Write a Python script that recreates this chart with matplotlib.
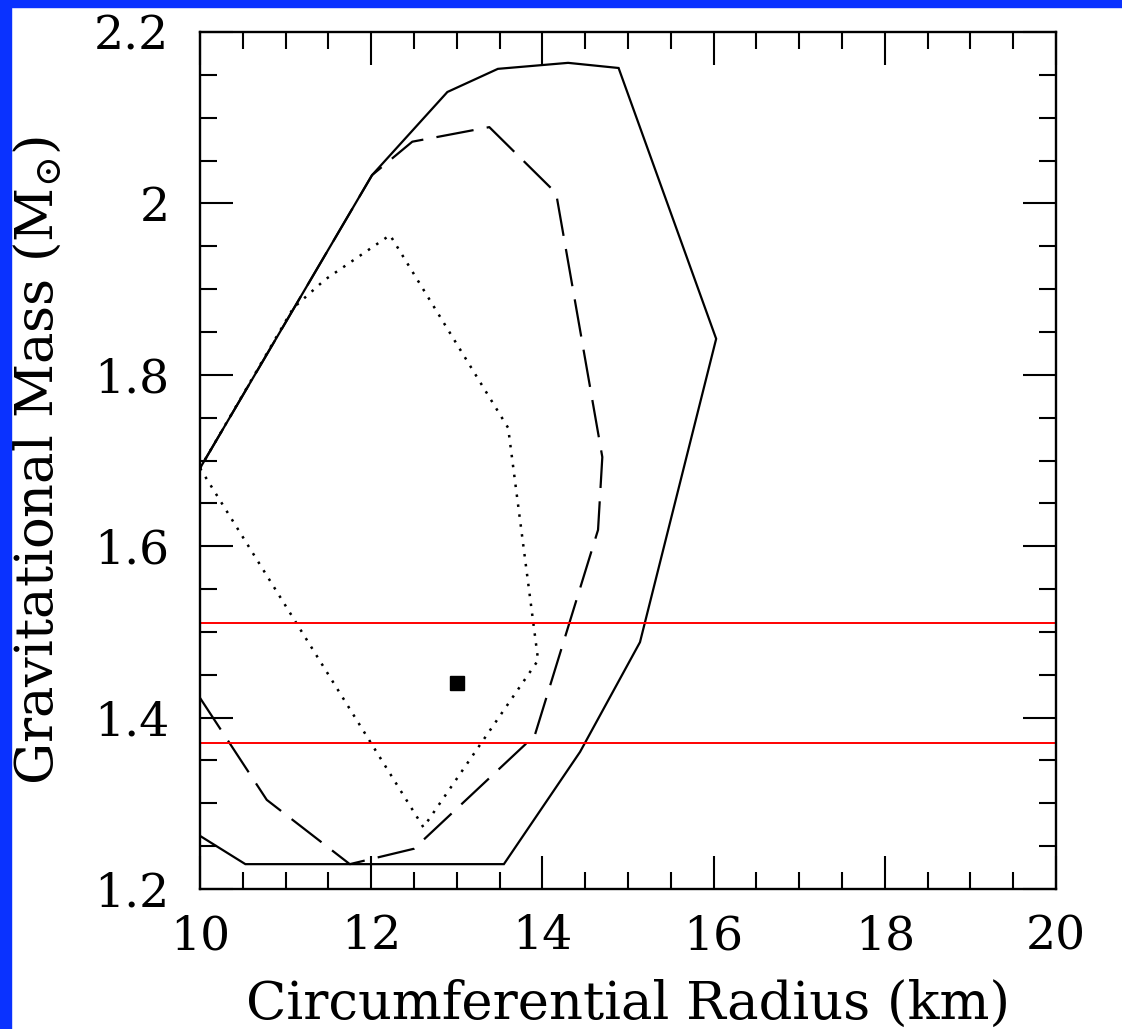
import matplotlib
matplotlib.use("Agg")
import matplotlib.pyplot as plt
from matplotlib.patches import Rectangle
from matplotlib.ticker import MultipleLocator

# confidence contours in the mass-radius plane
outer_r = [10.0, 10.53, 13.55, 14.44, 15.14, 16.03, 14.89, 14.30, 13.48, 12.89, 12.01, 10.0]
outer_m = [1.262, 1.229, 1.229, 1.360, 1.488, 1.842, 2.158, 2.164, 2.157, 2.130, 2.033, 1.691]

middle_r = [10.0, 10.78, 11.75, 12.50, 13.91, 14.65, 14.70, 14.16, 13.38, 12.48, 12.01, 10.0]
middle_m = [1.423, 1.304, 1.229, 1.247, 1.379, 1.619, 1.704, 2.012, 2.089, 2.072, 2.033, 1.691]

inner_r = [10.0, 11.09, 11.46, 12.22, 13.60, 13.95, 12.61, 10.0]
inner_m = [1.691, 1.878, 1.911, 1.963, 1.738, 1.467, 1.272, 1.691]

# best-fit point and measured mass band
best_r, best_m = 13.0, 1.44
mass_band = [1.37, 1.51]

plt.rcParams['font.family'] = ['DejaVu Serif']
plt.rcParams['mathtext.fontset'] = 'dejavuserif'

fig = plt.figure(figsize=(11.22, 10.29), dpi=100)
fig.patch.set_facecolor('white')

# blue frame on left and top edge
fig.patches.append(Rectangle((0, 0), 11 / 1122, 1, transform=fig.transFigure,
                             color='#0a32ff', zorder=0))
fig.patches.append(Rectangle((0, 1 - 7 / 1029), 1, 7 / 1029, transform=fig.transFigure,
                             color='#0a32ff', zorder=0))

ax = fig.add_axes([200 / 1122, 140 / 1029, 856 / 1122, 857 / 1029])

ax.plot(outer_r, outer_m, color='black', lw=1.6, solid_joinstyle='miter')
ax.plot(middle_r, middle_m, color='black', lw=1.6, linestyle=(0, (17, 6)))
ax.plot(inner_r, inner_m, color='black', lw=1.8, linestyle=(0, (1, 3)))

for m in mass_band:
    ax.axhline(m, color='red', lw=1.4)

ax.plot([best_r], [best_m], marker='s', color='black', markersize=9.4, linestyle='none')

ax.set_xlim(10, 20)
ax.set_ylim(1.2, 2.2)

ax.xaxis.set_major_locator(MultipleLocator(2))
ax.xaxis.set_minor_locator(MultipleLocator(0.5))
ax.yaxis.set_minor_locator(MultipleLocator(0.05))
ax.set_yticks([1.2, 1.4, 1.6, 1.8, 2.0, 2.2])
ax.set_yticklabels(['1.2', '1.4', '1.6', '1.8', '2', '2.2'])

ax.tick_params(which='both', direction='in', top=True, right=True, width=1.5)
ax.tick_params(which='major', length=23.5, labelsize=34)
ax.tick_params(which='minor', length=12)
ax.tick_params(axis='x', pad=18)
ax.tick_params(axis='y', pad=22)

for sp in ax.spines.values():
    sp.set_linewidth(1.7)

ax.set_xlabel('Circumferential Radius (km)', fontsize=38, labelpad=14)
ax.set_ylabel(r'Gravitational Mass (M$_{\odot}$)', fontsize=38, labelpad=22)

fig.savefig('out.png', dpi=100, facecolor='white')
